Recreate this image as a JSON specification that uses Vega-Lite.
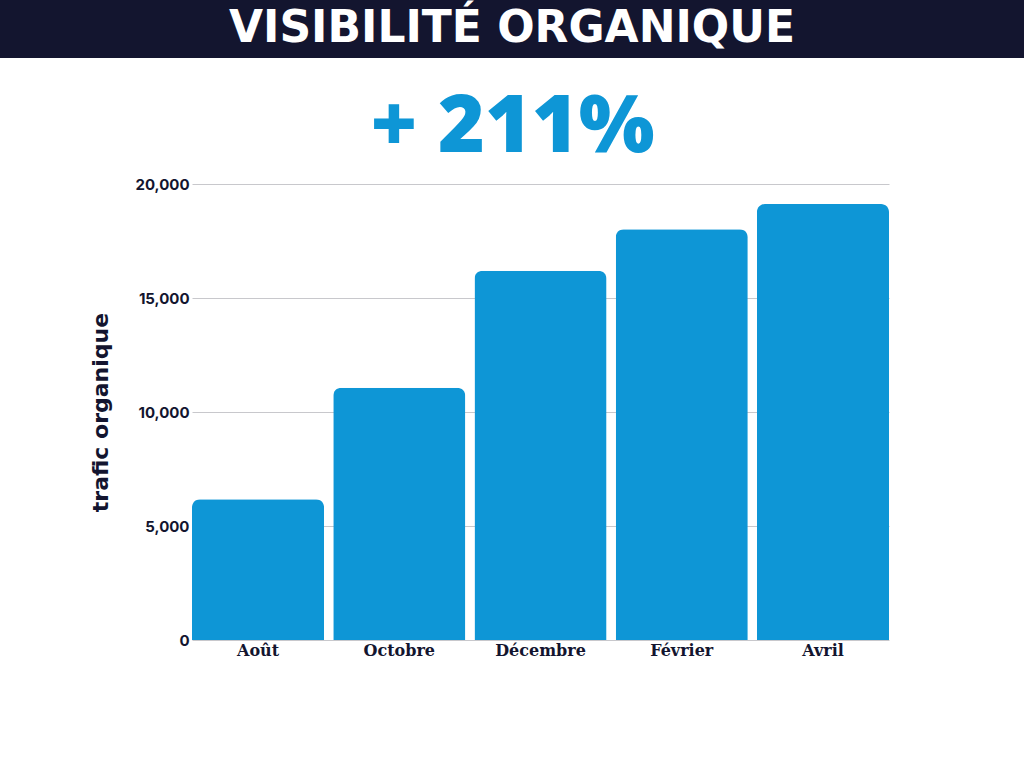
{
  "$schema": "https://vega.github.io/schema/vega-lite/v6.json",
  "background": "white",
  "padding": 0,
  "spacing": 30,
  "config": {"view": {"stroke": null}},
  "vconcat": [
    {
      "width": 1024,
      "height": 58,
      "view": {"fill": "#13152f", "stroke": null},
      "data": {"values": [{"titre": "VISIBILITÉ ORGANIQUE"}]},
      "mark": {"type": "text", "font": "DejaVu Sans", "fontWeight": "bold", "fontSize": 44, "color": "white", "baseline": "middle", "align": "center"},
      "encoding": {"text": {"field": "titre"}}
    },
    {
      "spacing": 0,
      "hconcat": [
        {
          "width": 89,
          "height": 456,
          "data": {"values": [{"v": ""}]},
          "mark": {"type": "text"},
          "encoding": {"text": {"field": "v"}}
        },
        {
          "width": 697,
          "height": 456,
          "title": {"text": "+ 211%", "fontSize": 80, "font": "Open Sans", "fontWeight": 800, "color": "#0e96d6", "offset": -55, "dx": -28, "baseline": "alphabetic"},
          "data": {"values": [
            {"mois": "Août", "trafic": 6170},
            {"mois": "Octobre", "trafic": 11060},
            {"mois": "Décembre", "trafic": 16200},
            {"mois": "Février", "trafic": 18020},
            {"mois": "Avril", "trafic": 19120}
          ]},
          "mark": {"type": "bar", "color": "#0e96d6", "cornerRadiusTopLeft": 8, "cornerRadiusTopRight": 8},
          "encoding": {
            "x": {"field": "mois", "type": "nominal", "sort": null,
              "scale": {"paddingInner": 0.065, "paddingOuter": 0},
              "axis": {"title": null, "labelAngle": 0, "ticks": false, "domain": false, "labelFont": "DejaVu Serif", "labelFontWeight": "bold", "labelFontSize": 16, "labelColor": "#13152f", "labelPadding": 2}},
            "y": {"field": "trafic", "type": "quantitative",
              "scale": {"domain": [0, 20000]},
              "axis": {"title": "trafic organique", "values": [0, 5000, 10000, 15000, 20000], "format": ",d", "ticks": false, "domain": false,
                "labelFont": "Inter", "labelFontWeight": "bold", "labelFontSize": 15, "labelColor": "#13152f", "labelPadding": 3,
                "gridColor": "#c8c8cc", "gridWidth": 1,
                "titleFont": "DejaVu Sans", "titleFontSize": 22, "titleFontWeight": "bold", "titleColor": "#13152f", "titlePadding": 22}}
          }
        }
      ]
    }
  ]
}
